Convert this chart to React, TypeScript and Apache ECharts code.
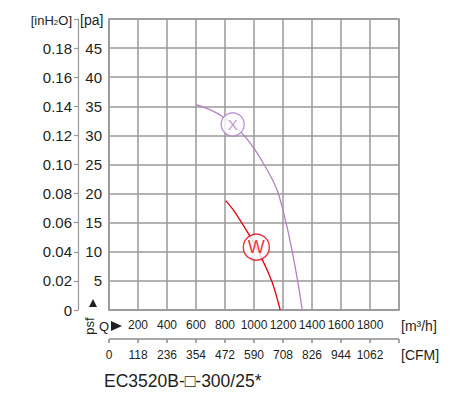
import React, { useEffect, useRef } from "react";
import * as echarts from "echarts";

// ---- data ----
const X_FLOW = [600, 700, 800, 853, 931, 1007, 1069, 1129, 1168, 1221, 1264, 1301, 1333];
const X_PRESSURE = [35.3, 34.4, 33.0, 31.9, 30.0, 27.5, 25.0, 22.3, 20.0, 15.0, 10.0, 5.0, 0];
const W_FLOW = [805, 857, 915, 1014, 1122, 1181];
const W_PRESSURE = [18.8, 17.2, 15.0, 10.8, 5.0, 0];
const MARKER_LABELS = ["X", "W"];
const MARKER_FLOW = [853, 1016];
const MARKER_PRESSURE = [31.9, 10.8];
const PA_LABELS = ["", "5", "10", "15", "20", "25", "30", "35", "40", "45", ""];
const INH2O_LABELS = ["0", "0.02", "0.04", "0.06", "0.08", "0.10", "0.12", "0.14", "0.16", "0.18", ""];
const M3H_LABELS = ["", "200", "400", "600", "800", "1000", "1200", "1400", "1600", "1800", ""];
const CFM_LABELS = ["0", "118", "236", "354", "472", "590", "708", "826", "944", "1062", ""];
const FLOW_TICKS = [0, 200, 400, 600, 800, 1000, 1200, 1400, 1600, 1800, 2000];

const PURPLE = "#b27fc6";
const RED = "#e60012";
const GRID = "#9a9a9a";
const TEXT = "#231f20";
const FONT = "'Liberation Sans', Arial, sans-serif";
const GRID_LEFT = 109;
const GRID_TOP = 19;
const GRID_W = 290;
const GRID_H = 291;
const CFM_OFFSET = 29;

export default function App() {
  const ref = useRef<HTMLDivElement>(null);
  useEffect(() => {
    if (!ref.current) return;
    const chart = echarts.init(ref.current, null, { renderer: "svg" });
    const xLine = X_FLOW.map((f, i) => [f, X_PRESSURE[i]]);
    const wLine = W_FLOW.map((f, i) => [f, W_PRESSURE[i]]);
    const colors = [PURPLE, RED];
    const sizes = [23, 26];
    const fonts = [15, 18];
    const fixed: any[] = [
      {
        type: "text", x: 72, y: 20,
        style: {
          text: "{a|[inH}{s|2}{a|O]}", align: "right", verticalAlign: "middle",
          rich: {
            a: { fontSize: 13, fill: TEXT, fontFamily: FONT },
            s: { fontSize: 8, fill: TEXT, fontFamily: FONT, padding: [5, 0, 0, 0] },
          },
        },
      },
      { type: "text", x: 80, y: 20, style: { text: "[pa]", fontSize: 14, fill: TEXT, fontFamily: FONT, align: "left", verticalAlign: "middle" } },
      { type: "polygon", shape: { points: [[89, 307], [97, 307], [93, 299]] }, style: { fill: TEXT } },
      { type: "text", x: 89, y: 326, rotation: Math.PI / 2, style: { text: "psf", fontSize: 13, fill: TEXT, fontFamily: FONT, align: "center", verticalAlign: "middle" } },
      { type: "text", x: 104, y: 326, style: { text: "Q", fontSize: 13, fill: TEXT, fontFamily: FONT, align: "center", verticalAlign: "middle" } },
      { type: "polygon", shape: { points: [[111, 321], [111, 331], [122, 326]] }, style: { fill: TEXT } },
      { type: "text", x: 401, y: 326, style: { text: "[m³/h]", fontSize: 14, fill: TEXT, fontFamily: FONT, align: "left", verticalAlign: "middle" } },
      { type: "text", x: 401, y: 355, style: { text: "[CFM]", fontSize: 14, fill: TEXT, fontFamily: FONT, align: "left", verticalAlign: "middle" } },
      { type: "text", x: 104, y: 381, style: { text: "EC3520B-□-300/25*", fontSize: 17.5, fill: TEXT, fontFamily: FONT, align: "left", verticalAlign: "middle" } },
    ];
    chart.setOption({
      animation: false,
      grid: { left: GRID_LEFT, top: GRID_TOP, width: GRID_W, height: GRID_H, show: true, borderColor: GRID, borderWidth: 1.5, backgroundColor: "transparent" },
      xAxis: [
        {
          type: "value", min: FLOW_TICKS[0], max: FLOW_TICKS[FLOW_TICKS.length - 1], interval: 200, position: "bottom",
          axisLine: { show: true, onZero: false, lineStyle: { color: GRID, width: 1.5 } },
          axisTick: { show: false },
          axisLabel: { margin: 9, fontSize: 12, color: TEXT, fontFamily: FONT, formatter: (v: number) => M3H_LABELS[Math.round(v / 200)] ?? "" },
          splitLine: { show: true, lineStyle: { color: GRID, width: 1.5 } },
        },
        {
          type: "value", min: FLOW_TICKS[0], max: FLOW_TICKS[FLOW_TICKS.length - 1], interval: 200, position: "bottom", offset: CFM_OFFSET,
          axisLine: { show: false, onZero: false },
          axisTick: { show: false },
          axisLabel: { margin: 10, fontSize: 12, color: TEXT, fontFamily: FONT, formatter: (v: number) => CFM_LABELS[Math.round(v / 200)] ?? "" },
          splitLine: { show: false },
        },
      ],
      yAxis: [
        {
          type: "value", min: 0, max: 50, interval: 5, position: "left",
          axisLine: { show: true, onZero: false, lineStyle: { color: GRID, width: 1.5 } },
          axisTick: { show: false },
          axisLabel: { margin: 7, fontSize: 15, color: TEXT, fontFamily: FONT, formatter: (v: number) => PA_LABELS[Math.round(v / 5)] ?? "" },
          splitLine: { show: true, lineStyle: { color: GRID, width: 1.5 } },
        },
        {
          type: "value", min: 0, max: 50, interval: 5, position: "left", offset: 31,
          axisLine: { show: true, onZero: false, lineStyle: { color: GRID, width: 1.2 } },
          axisTick: { show: true, length: 4, lineStyle: { color: GRID, width: 1.2 } },
          axisLabel: { margin: 6, fontSize: 15, color: TEXT, fontFamily: FONT, formatter: (v: number) => INH2O_LABELS[Math.round(v / 5)] ?? "" },
          splitLine: { show: false },
        },
      ],
      series: [
        { type: "line", xAxisIndex: 0, yAxisIndex: 0, data: xLine, smooth: 0.3, showSymbol: false, lineStyle: { color: PURPLE, width: 1.3 }, z: 3 },
        { type: "line", xAxisIndex: 0, yAxisIndex: 0, data: wLine, smooth: 0.3, showSymbol: false, lineStyle: { color: RED, width: 1.3 }, z: 3 },
        {
          type: "scatter", xAxisIndex: 0, yAxisIndex: 0, z: 5,
          data: MARKER_LABELS.map((name, i) => ({
            value: [MARKER_FLOW[i], MARKER_PRESSURE[i]],
            name,
            symbolSize: sizes[i],
            itemStyle: { color: "#ffffff", borderColor: colors[i], borderWidth: 1.4 },
            label: { show: true, position: "inside", formatter: name, color: colors[i], fontSize: fonts[i], fontFamily: FONT },
          })),
        },
      ],
      graphic: fixed,
    });
    // CFM axis line and ticks, positioned through the chart's own x scale (with layout fallback)
    const span = FLOW_TICKS[FLOW_TICKS.length - 1] - FLOW_TICKS[0];
    const xs = FLOW_TICKS.map((v) => {
      const p = Number(chart.convertToPixel({ xAxisIndex: 0 }, v));
      return Number.isFinite(p) ? p : GRID_LEFT + ((v - FLOW_TICKS[0]) / span) * GRID_W;
    });
    const yBase = GRID_TOP + GRID_H + CFM_OFFSET;
    const cfmGraphics: any[] = [
      { type: "line", z: 100, shape: { x1: xs[0], y1: yBase, x2: xs[xs.length - 1], y2: yBase }, style: { stroke: "#8c8c8c", lineWidth: 1.5 } },
      ...xs.map((x) => ({ type: "line", z: 100, shape: { x1: x, y1: yBase, x2: x, y2: yBase + 4 }, style: { stroke: "#8c8c8c", lineWidth: 1.5 } })),
    ];
    chart.setOption({ graphic: [...fixed, ...cfmGraphics] }, { replaceMerge: ["graphic"] });
    return () => chart.dispose();
  }, []);
  return <div ref={ref} style={{ position: "absolute", left: 0, top: 0, width: 467, height: 395, background: "#fff" }} />;
}
